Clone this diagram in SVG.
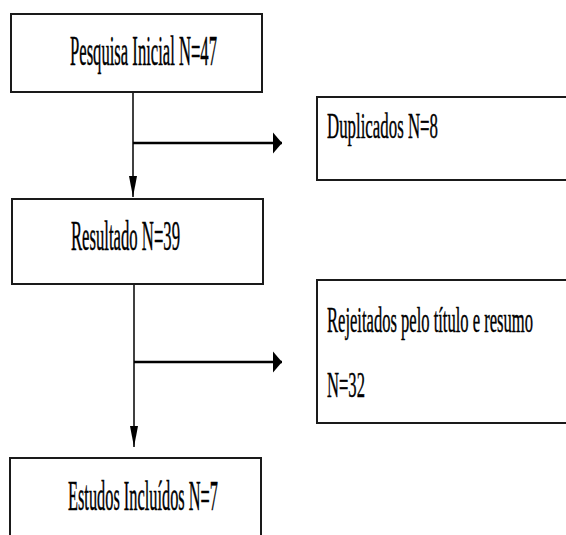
<svg xmlns="http://www.w3.org/2000/svg" width="566" height="535" viewBox="0 0 566 535">
  <style>
    .box { fill: #ffffff; stroke: #1a1a1a; stroke-width: 2; }
    .lbl { font-family: "Liberation Serif", "Times New Roman", serif; font-size: 16.6px; fill: #000000; stroke: #000000; stroke-width: 0.2px; }
    .ln { stroke: #000000; fill: none; }
  </style>
  <defs>
    <marker id="arrowV" markerUnits="userSpaceOnUse" markerWidth="22" markerHeight="10" refX="21" refY="5" orient="auto">
      <path d="M0,1 L21,5 L0,9 Z" fill="#000"/>
    </marker>
    <marker id="arrowH" markerUnits="userSpaceOnUse" markerWidth="10" markerHeight="22" refX="9" refY="11" orient="auto">
      <path d="M0,0.5 L9,11 L0,21.5 Z" fill="#000"/>
    </marker>
  </defs>
  <rect width="566" height="535" fill="#ffffff"/>

  <g id="connectors">
    <line class="ln" x1="133" y1="92" x2="133" y2="197" stroke-width="1.5" marker-end="url(#arrowV)"/>
    <line class="ln" x1="133" y1="143" x2="282" y2="143" stroke-width="2.5" marker-end="url(#arrowH)"/>
    <line class="ln" x1="134" y1="284" x2="134" y2="447" stroke-width="1.5" marker-end="url(#arrowV)"/>
    <line class="ln" x1="134" y1="362" x2="282" y2="362" stroke-width="2.5" marker-end="url(#arrowH)"/>
  </g>

  <g id="pesquisa-inicial">
    <rect class="box" x="11" y="14" width="251" height="78"/>
    <text class="lbl" transform="translate(70,65) scale(1,2.5)" textLength="147" lengthAdjust="spacingAndGlyphs">Pesquisa Inicial N=47</text>
  </g>

  <g id="duplicados">
    <rect class="box" x="317" y="97" width="300" height="83"/>
    <text class="lbl" transform="translate(327,138) scale(1,2.2)" textLength="111" lengthAdjust="spacingAndGlyphs">Duplicados N=8</text>
  </g>

  <g id="resultado">
    <rect class="box" x="12" y="199" width="251" height="85"/>
    <text class="lbl" transform="translate(71,250) scale(1,2.5)" textLength="109" lengthAdjust="spacingAndGlyphs">Resultado N=39</text>
  </g>

  <g id="rejeitados">
    <rect class="box" x="317" y="280" width="300" height="143"/>
    <text class="lbl" transform="translate(327,332) scale(1,2.2)" textLength="206" lengthAdjust="spacingAndGlyphs">Rejeitados pelo título e resumo</text>
    <text class="lbl" transform="translate(327,397) scale(1,2.2)">N=32</text>
  </g>

  <g id="estudos-incluidos">
    <rect class="box" x="10" y="458" width="251" height="100"/>
    <text class="lbl" transform="translate(68,510) scale(1,2.5)" textLength="150" lengthAdjust="spacingAndGlyphs">Estudos Incluídos N=7</text>
  </g>
</svg>
